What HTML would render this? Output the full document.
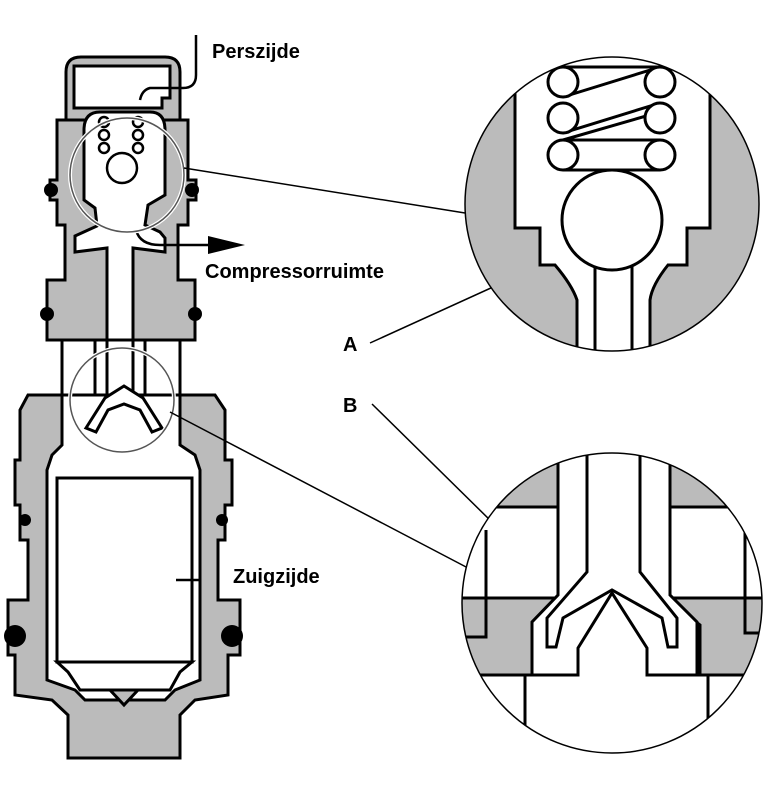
<!DOCTYPE html>
<html><head><meta charset="utf-8"><style>
html,body{margin:0;padding:0;background:#fff}
svg{display:block}
text{font-family:"Liberation Sans",sans-serif;font-weight:bold;font-size:20px;fill:#000}
</style></head><body>
<svg width="768" height="805" viewBox="0 0 768 805" xmlns="http://www.w3.org/2000/svg">
<defs>
<clipPath id="c1"><circle cx="612" cy="204" r="147"/></clipPath>
<clipPath id="c2"><circle cx="612" cy="603" r="150"/></clipPath>
</defs>
<g stroke="#000" stroke-width="3" stroke-linejoin="miter">
<!-- top cap -->
<path d="M66,72 Q66,57 81,57 L165,57 Q180,57 180,72 L180,125 L66,125 Z" fill="#bbb"/>
<path d="M74,66 L170,66 L170,98 L162,98 L162,108 L74,108 Z" fill="#fff"/>
<!-- upper body -->
<path d="M57,120 L188,120 L188,180 L196,180 L196,200 L188,200 L188,225 L178,225 L178,280 L195,280 L195,340 L47,340 L47,280 L65,280 L65,225 L57,225 L57,200 L50,200 L50,180 L57,180 Z" fill="#bbb"/>
<path d="M84,130 Q84,112 100,112 L150,112 Q165,112 165,130 L165,195 L148,205 L145,225 L160,232 L165,238 L165,252 L133,248 L133,340 L107,340 L107,248 L75,252 L75,236 L97,226 L95,208 L84,200 Z" fill="#fff"/>
<!-- middle section -->
<path d="M62,340 L180,340 L180,395 L62,395 Z" fill="#fff"/>
<path d="M95,340 L107,340 L107,395 L95,395 Z M133,340 L145,340 L145,395 L133,395 Z" fill="#fff"/>
<!-- lower body -->
<path d="M28,395 L215,395 L225,410 L225,460 L232,460 L232,505 L225,505 L225,540 L218,540 L218,600 L240,600 L240,655 L228,655 L228,695 L195,700 L180,715 L180,758 L68,758 L68,715 L52,700 L15,695 L15,655 L8,655 L8,600 L28,600 L28,540 L20,540 L20,505 L15,505 L15,460 L20,460 L20,410 Z" fill="#bbb"/>
<path d="M62,395 L180,395 L180,445 L195,455 L200,470 L200,680 L175,690 L165,700 L85,700 L75,690 L47,680 L47,470 L52,455 L62,445 Z" fill="#fff"/>
<path d="M57,478 L192,478 L192,662 L57,662 Z" fill="#fff"/>
<path d="M57,662 L192,662 L180,672 L170,690 L80,690 L68,672 Z" fill="#fff"/>
<path d="M110,690 L138,690 L124,705 Z" fill="#bbb"/>
<path d="M86,428 L105,398 L124,386 L143,398 L162,428 L152,432 L140,410 L124,404 L108,410 L96,432 Z" fill="#fff"/>
</g>
<!-- o-rings -->
<g fill="#000">
<circle cx="51" cy="190" r="7"/><circle cx="192" cy="190" r="7"/>
<circle cx="47" cy="314" r="7"/><circle cx="195" cy="314" r="7"/>
<circle cx="25" cy="520" r="6"/><circle cx="222" cy="520" r="6"/>
<circle cx="15" cy="636" r="11"/><circle cx="232" cy="636" r="11"/>
</g>
<!-- small spring / ball -->
<g stroke="#000" stroke-width="2.5" fill="#fff">
<circle cx="104" cy="122" r="5"/><circle cx="104" cy="135" r="5"/><circle cx="104" cy="148" r="5"/>
<circle cx="138" cy="122" r="5"/><circle cx="138" cy="135" r="5"/><circle cx="138" cy="148" r="5"/>
<circle cx="122" cy="168" r="15"/>
</g>
<!-- pipes -->
<g fill="none" stroke="#000" stroke-width="2.5">
<path d="M196,35 L196,75 Q196,88 183,88 L150,88 Q142,90 140,100"/>
<path d="M136,230 Q140,245 160,245 L210,245"/>
<path d="M176,580 L200,580"/>
</g>
<path d="M208,236 L245,245 L208,254 Z" fill="#000"/>
<!-- small circles -->
<g fill="none" stroke="#fff" stroke-width="4"><circle cx="127" cy="175" r="57"/><circle cx="122" cy="400" r="52"/></g>
<g fill="none" stroke="#555" stroke-width="1.5"><circle cx="127" cy="175" r="57"/><circle cx="122" cy="400" r="52"/></g>
<!-- connecting lines -->
<g stroke="#000" stroke-width="1.5">
<line x1="184" y1="168" x2="465" y2="213"/>
<line x1="170" y1="412" x2="468" y2="568"/>
<line x1="370" y1="343" x2="548" y2="262"/>
<line x1="372" y1="404" x2="556" y2="585"/>
</g>
<!-- big circle 1 -->
<g clip-path="url(#c1)" stroke="#000" stroke-width="3">
<rect x="450" y="50" width="320" height="320" fill="#bbb" stroke="none"/>
<path d="M515,40 L710,40 L710,228 L687,228 L687,265 L668,265 Q652,285 650,300 L650,370 L577,370 L577,300 Q572,285 555,265 L540,265 L540,228 L515,228 Z" fill="#fff"/>
<line x1="595" y1="260" x2="595" y2="370"/><line x1="632" y1="260" x2="632" y2="370"/>
<g fill="#fff">
<path d="M563,67 L660,67 M563,97 L660,67 M563,133 L660,103 M563,140 L660,112 M563,140 L660,140 M563,170 L660,170" fill="none"/>
<circle cx="563" cy="82" r="15"/><circle cx="563" cy="118" r="15"/><circle cx="563" cy="155" r="15"/>
<circle cx="660" cy="82" r="15"/><circle cx="660" cy="118" r="15"/><circle cx="660" cy="155" r="15"/>
<circle cx="612" cy="220" r="50"/>
</g>
</g>
<circle cx="612" cy="204" r="147" fill="none" stroke="#000" stroke-width="1.5"/>
<!-- big circle 2 -->
<g clip-path="url(#c2)" stroke="#000" stroke-width="3">
<rect x="450" y="440" width="320" height="330" fill="#fff" stroke="none"/>
<path d="M450,440 L558,440 L558,507 L450,507 Z M670,440 L780,440 L780,507 L670,507 Z" fill="#bbb"/>
<path d="M450,598 L560,598 L535,625 L535,675 L450,675 Z M665,598 L780,598 L780,675 L700,675 L700,625 Z" fill="#bbb"/>
<path d="M486,530 L486,637 L465,637" fill="none"/>
<path d="M745,530 L745,633 L765,633" fill="none"/>
<path d="M525,675 L525,760 M708,675 L708,760 M465,675 L525,675 M708,675 L765,675" fill="none"/>
<path d="M558,440 L558,595 L532,622 L532,675 L578,675 L578,648 L612,593 L647,648 L647,675 L697,675 L697,622 L670,595 L670,440" fill="#fff"/>
<path d="M587,440 L587,572 L547,618 L547,647 L556,647 L563,618 L612,590 L662,618 L668,647 L677,647 L677,618 L640,572 L640,440" fill="#fff"/>
</g>
<circle cx="612" cy="603" r="150" fill="none" stroke="#000" stroke-width="1.5"/>
<!-- labels -->
<text x="212" y="58">Perszijde</text>
<text x="205" y="278">Compressorruimte</text>
<text x="343" y="351">A</text>
<text x="343" y="412">B</text>
<text x="233" y="583">Zuigzijde</text>
</svg>
</body></html>
